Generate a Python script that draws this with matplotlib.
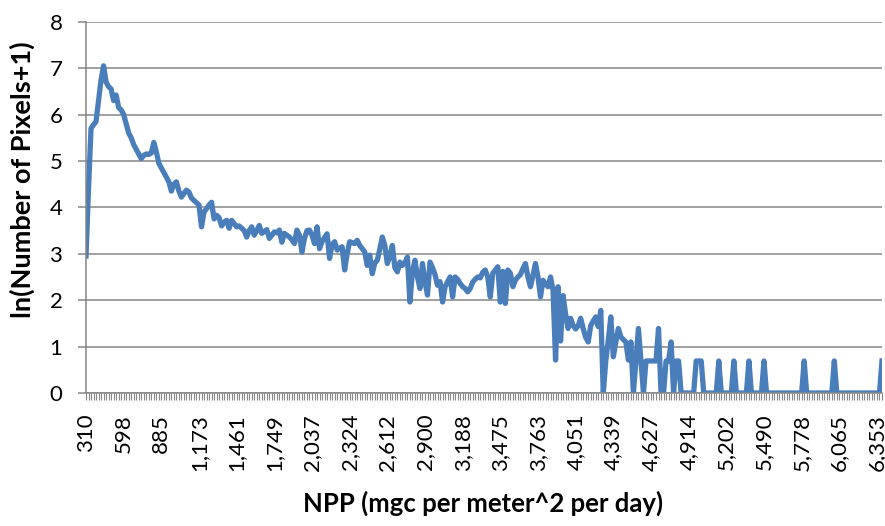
import matplotlib
matplotlib.use("Agg")
import matplotlib.pyplot as plt

plt.rcParams['font.family'] = ['Lato', 'DejaVu Sans']

# ln(pixel count + 1) for each NPP bin (bins 310 .. ~6,390, step ~19.2)
ln_pixels = [
    2.95, 4.40, 5.70, 5.78, 5.85, 6.30, 6.75, 7.05, 6.70, 6.60,
    6.55, 6.30, 6.42, 6.15, 6.10, 6.00, 5.80, 5.60, 5.50, 5.35,
    5.25, 5.15, 5.05, 5.12, 5.15, 5.14, 5.17, 5.40, 5.20, 4.95,
    4.85, 4.75, 4.65, 4.55, 4.35, 4.50, 4.55, 4.35, 4.22, 4.30,
    4.37, 4.33, 4.20, 4.15, 4.10, 4.05, 3.58, 3.90, 3.97, 4.05,
    4.11, 3.75, 3.83, 3.78, 3.60, 3.68, 3.72, 3.55, 3.72, 3.65,
    3.58, 3.60, 3.55, 3.50, 3.36, 3.50, 3.58, 3.40, 3.50, 3.61,
    3.44, 3.48, 3.52, 3.33, 3.40, 3.47, 3.45, 3.51, 3.25, 3.44,
    3.40, 3.36, 3.30, 3.22, 3.51, 3.40, 3.04, 3.33, 3.50, 3.51,
    3.40, 3.22, 3.58, 3.11, 3.26, 3.35, 3.43, 2.90, 3.20, 3.26,
    3.08, 3.12, 3.15, 2.65, 3.00, 3.26, 3.24, 3.22, 3.29, 3.18,
    3.11, 3.04, 2.75, 2.97, 2.57, 2.80, 2.86, 3.10, 3.36, 3.18,
    2.79, 2.95, 3.18, 2.70, 2.61, 2.82, 2.75, 2.80, 2.93, 1.96,
    2.61, 2.86, 2.50, 2.25, 2.79, 2.40, 2.11, 2.82, 2.70, 2.55,
    2.32, 2.40, 1.96, 2.29, 2.40, 2.50, 2.07, 2.50, 2.45, 2.36,
    2.29, 2.25, 2.18, 2.25, 2.39, 2.45, 2.50, 2.48, 2.60, 2.65,
    2.50, 2.07, 2.58, 2.65, 2.72, 1.96, 2.62, 1.93, 2.65, 2.58,
    2.29, 2.43, 2.50, 2.55, 2.68, 2.79, 2.50, 2.29, 2.54, 2.79,
    2.50, 2.07, 2.43, 2.35, 2.29, 2.50, 2.21, 0.71, 2.29, 1.12,
    2.10, 1.70, 1.39, 1.61, 1.45, 1.38, 1.45, 1.61, 1.39, 1.20,
    1.10, 1.45, 1.55, 1.64, 1.43, 1.78, 0.00, 0.69, 1.14, 1.64,
    0.78, 1.10, 1.39, 1.21, 1.15, 1.10, 0.71, 1.10, 0.00, 0.69,
    1.39, 0.69, 0.00, 0.69, 0.69, 0.69, 0.69, 0.69, 1.39, 0.00,
    0.00, 0.69, 0.69, 1.10, 0.00, 0.69, 0.69, 0.00, 0.00, 0.00,
    0.00, 0.00, 0.00, 0.69, 0.69, 0.69, 0.00, 0.00, 0.00, 0.00,
    0.00, 0.00, 0.69, 0.00, 0.00, 0.00, 0.00, 0.00, 0.69, 0.00,
    0.00, 0.00, 0.00, 0.00, 0.69, 0.00, 0.00, 0.00, 0.00, 0.00,
    0.69, 0.00, 0.00, 0.00, 0.00, 0.00, 0.00, 0.00, 0.00, 0.00,
    0.00, 0.00, 0.00, 0.00, 0.00, 0.00, 0.69, 0.00, 0.00, 0.00,
    0.00, 0.00, 0.00, 0.00, 0.00, 0.00, 0.00, 0.00, 0.69, 0.00,
    0.00, 0.00, 0.00, 0.00, 0.00, 0.00, 0.00, 0.00, 0.00, 0.00,
    0.00, 0.00, 0.00, 0.00, 0.00, 0.00, 0.00, 0.69,
]

# every 15th bin gets a label
npp_labels = ['310', '598', '885', '1,173', '1,461', '1,749', '2,037', '2,324',
              '2,612', '2,900', '3,188', '3,475', '3,763', '4,051', '4,339',
              '4,627', '4,914', '5,202', '5,490', '5,778', '6,065', '6,353']
label_every = 15

grey = '#868686'
n = len(ln_pixels)
x = list(range(n))

fig = plt.figure(figsize=(8.85, 5.26), dpi=100)
ax = fig.add_axes([86 / 885, 133 / 526, 796 / 885, 371.3 / 526])

ax.plot(x, ln_pixels, color='#4A7EBB', lw=3.8, solid_joinstyle='round')

ax.set_xlim(0, n - 1)
ax.set_ylim(0, 8)
ax.set_yticks(range(0, 9))
ax.grid(axis='y', color=grey, lw=1.1)
ax.set_axisbelow(True)

ax.set_xticks(x, minor=True)
ax.set_xticks([i * label_every for i in range(len(npp_labels))])
ax.set_xticklabels(npp_labels, rotation=90)

for s in ['top', 'right']:
    ax.spines[s].set_visible(False)
for s in ['left', 'bottom']:
    ax.spines[s].set_color(grey)
    ax.spines[s].set_linewidth(1.1)

ax.tick_params(axis='y', length=6, width=1.1, color=grey, pad=11, labelsize=16)
ax.tick_params(axis='x', which='both', length=5, width=0.8, color=grey, labelsize=16, pad=10)

fig.text(22 / 885, 1 - 180 / 526, 'ln(Number of Pixels+1)', rotation=90,
         ha='center', va='center', fontsize=19.5, fontweight='bold')
fig.text(483 / 885, 1 - 503 / 526, 'NPP (mgc per meter^2 per day)',
         ha='center', va='center', fontsize=18.5, fontweight='bold')

fig.savefig('out.png', dpi=100)
